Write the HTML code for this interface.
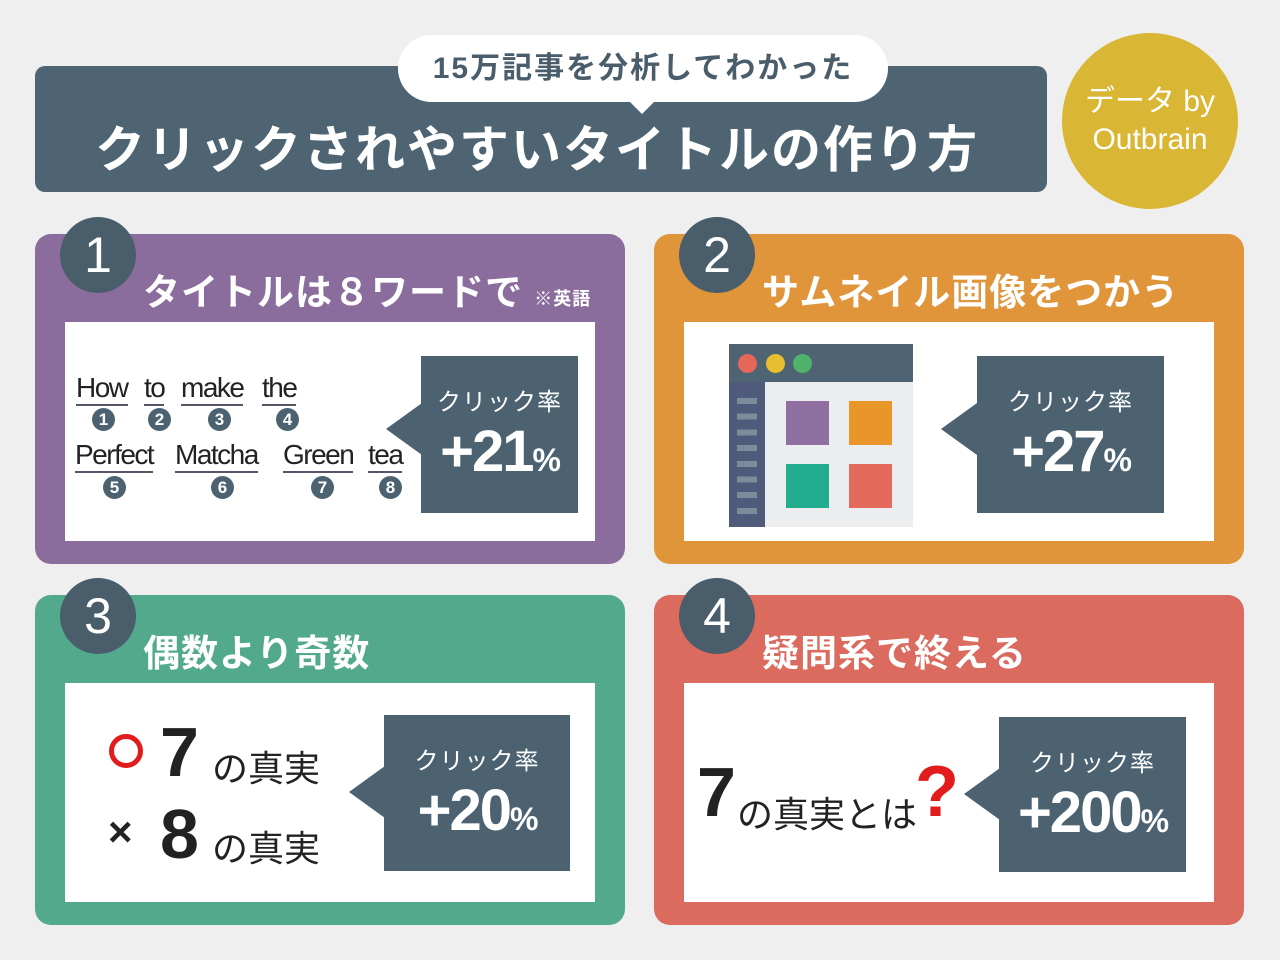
<!DOCTYPE html>
<html><head><meta charset="utf-8"><style>
*{margin:0;padding:0;box-sizing:border-box}
body{width:1280px;height:960px;background:#efefef;position:relative;overflow:hidden;font-family:"Liberation Sans","Noto Sans CJK JP",sans-serif}
.a{position:absolute}
.panel{position:absolute;width:590px;height:330px;border-radius:16px}
.inner{position:absolute;left:30px;top:88px;width:530px;height:219px;background:#fff}
.num{position:absolute;width:76px;height:76px;border-radius:50%;background:#4a5d6b;color:#fff;font-size:50px;text-align:center;line-height:76px;left:25px;top:-17px}
.ttl{position:absolute;left:108px;top:28px;color:#fff;font-size:37px;font-weight:bold;white-space:nowrap;letter-spacing:1px}
.box{position:absolute;background:#4c6271;color:#fff;text-align:center}
.box .k{font-size:24px;margin-top:26px;letter-spacing:1px}
.box .v{font-size:58px;font-weight:bold;line-height:70px;letter-spacing:-2px}
.box .v small{font-size:32px}
.tri{position:absolute;width:0;height:0;border-top:26px solid transparent;border-bottom:26px solid transparent;border-right:36px solid #4c6271}
.w{position:absolute;font-size:28px;color:#222;border-bottom:2px solid #556;line-height:32px;letter-spacing:-1.5px}
.c{position:absolute;width:23px;height:23px;border-radius:50%;background:#4c6271;color:#fff;font-size:17px;text-align:center;line-height:23px;font-weight:bold}
</style></head><body>
<div class="a" style="left:35px;top:66px;width:1012px;height:126px;background:#4f6472;border-radius:10px"></div>
<div class="a" style="left:398px;top:35px;width:490px;height:67px;background:#fff;border-radius:34px;text-align:center;font-size:30px;line-height:67px;color:#4a5d6b;font-weight:bold;letter-spacing:2px">15万記事を分析してわかった</div>
<div class="a" style="left:628px;top:100px;width:0;height:0;border-left:14px solid transparent;border-right:14px solid transparent;border-top:14px solid #fff"></div>
<div class="a" style="left:95px;top:110px;color:#fff;font-size:50px;font-weight:bold;letter-spacing:2px;white-space:nowrap">クリックされやすいタイトルの作り方</div>
<div class="a" style="left:1062px;top:33px;width:176px;height:176px;border-radius:50%;background:#d9b634;color:#fff;text-align:center;font-size:30px;line-height:38px;padding-top:50px">データ by<br>Outbrain</div>

<div class="panel" style="left:35px;top:234px;background:#8a6d9c">
<div class="num">1</div><div class="ttl">タイトルは８ワードで <span style="font-size:18px">※英語</span></div>
<div class="inner"></div></div>
<div class="w" style="left:76px;top:372px">How</div><div class="w" style="left:144px;top:372px">to</div><div class="w" style="left:181px;top:372px">make</div><div class="w" style="left:262px;top:372px">the</div>
<div class="c" style="left:92px;top:408px">1</div><div class="c" style="left:148px;top:408px">2</div><div class="c" style="left:208px;top:408px">3</div><div class="c" style="left:276px;top:408px">4</div>
<div class="w" style="left:75px;top:439px">Perfect</div><div class="w" style="left:175px;top:439px">Matcha</div><div class="w" style="left:283px;top:439px">Green</div><div class="w" style="left:368px;top:439px">tea</div>
<div class="c" style="left:103px;top:476px">5</div><div class="c" style="left:211px;top:476px">6</div><div class="c" style="left:311px;top:476px">7</div><div class="c" style="left:379px;top:476px">8</div>
<div class="tri" style="left:386px;top:403px"></div>
<div class="box" style="left:421px;top:356px;width:157px;height:157px"><div class="k">クリック率</div><div class="v">+21<small>%</small></div></div>

<div class="panel" style="left:654px;top:234px;background:#e0953a">
<div class="num">2</div><div class="ttl">サムネイル画像をつかう</div>
<div class="inner"></div></div>
<div class="a" style="left:729px;top:344px;width:184px;height:183px;background:#ecedef"></div>
<div class="a" style="left:729px;top:344px;width:184px;height:38px;background:#4f6472"></div>
<div class="a" style="left:729px;top:382px;width:36px;height:145px;background:#505a7a"></div>
<div class="a" style="left:738px;top:354px;width:19px;height:19px;border-radius:50%;background:#e4675a"></div>
<div class="a" style="left:766px;top:354px;width:19px;height:19px;border-radius:50%;background:#e7be2f"></div>
<div class="a" style="left:793px;top:354px;width:19px;height:19px;border-radius:50%;background:#4fb36c"></div>
<div class="a" style="left:737px;top:398px;width:20px;height:120px;background:repeating-linear-gradient(#7b8d9a 0 6px,#505a7a 6px 15.7px)"></div>
<div class="a" style="left:786px;top:401px;width:43px;height:44px;background:#8e6fa0"></div>
<div class="a" style="left:849px;top:401px;width:43px;height:44px;background:#e8962a"></div>
<div class="a" style="left:786px;top:464px;width:43px;height:44px;background:#22ad91"></div>
<div class="a" style="left:849px;top:464px;width:43px;height:44px;background:#e46a5c"></div>
<div class="tri" style="left:941px;top:403px"></div>
<div class="box" style="left:977px;top:356px;width:187px;height:157px"><div class="k">クリック率</div><div class="v">+27<small>%</small></div></div>

<div class="panel" style="left:35px;top:595px;background:#52a98c">
<div class="num">3</div><div class="ttl">偶数より奇数</div>
<div class="inner"></div></div>
<div class="a" style="left:109px;top:734px;width:34px;height:34px;border-radius:50%;border:5px solid #e21c1c"></div>
<div class="a" style="left:160px;top:712px;font-size:70px;font-weight:bold;color:#222">7</div>
<div class="a" style="left:212px;top:740px;font-size:36px;color:#222">の真実</div>
<div class="a" style="left:108px;top:808px;font-size:42px;font-weight:bold;color:#222">×</div>
<div class="a" style="left:160px;top:794px;font-size:70px;font-weight:bold;color:#222">8</div>
<div class="a" style="left:212px;top:820px;font-size:36px;color:#222">の真実</div>
<div class="tri" style="left:349px;top:766px"></div>
<div class="box" style="left:384px;top:715px;width:186px;height:156px"><div class="k">クリック率</div><div class="v">+20<small>%</small></div></div>

<div class="panel" style="left:654px;top:595px;background:#da6b5e">
<div class="num">4</div><div class="ttl">疑問系で終える</div>
<div class="inner"></div></div>
<div class="a" style="left:697px;top:752px;font-size:70px;font-weight:bold;color:#222;line-height:80px">7</div>
<div class="a" style="left:737px;top:786px;font-size:36px;color:#222;white-space:nowrap">の真実とは</div>
<div class="a" style="left:915px;top:752px;font-size:72px;font-weight:bold;color:#e21c1c;line-height:80px">?</div>
<div class="tri" style="left:964px;top:768px"></div>
<div class="box" style="left:999px;top:717px;width:187px;height:155px"><div class="k">クリック率</div><div class="v">+200<small>%</small></div></div>
</body></html>
